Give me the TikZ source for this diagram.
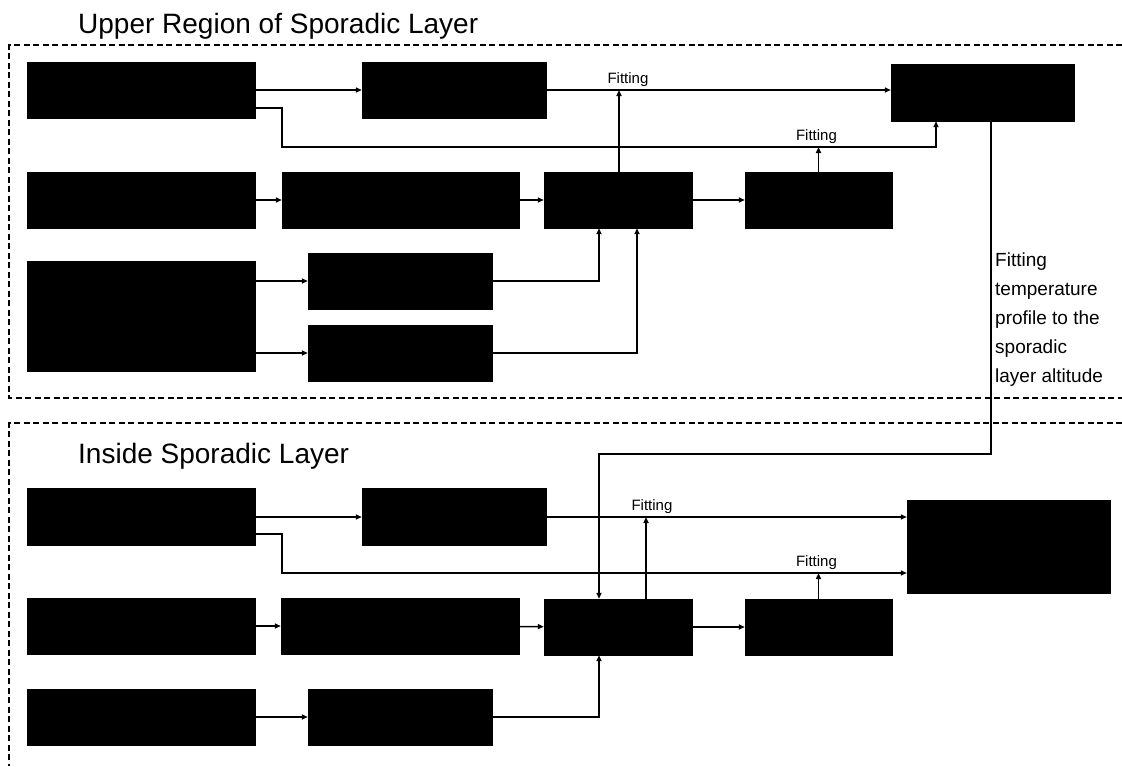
\documentclass[tikz,border=0pt]{standalone}
\usepackage{fontspec}
\setmainfont{Liberation Sans}
\usetikzlibrary{arrows.meta}
\begin{document}
\begin{tikzpicture}[x=1pt,y=-1pt,
  blk/.style={draw=black,fill=black,inner sep=0pt,minimum height=56pt},
  conn/.style={line width=1.6pt,-{Triangle[length=6pt,width=5pt]}},
  zone/.style={line width=1.3pt,dash pattern=on 6pt off 3.5pt},
  fitlbl/.style={font=\fontsize{15}{18}\selectfont,inner sep=0pt,anchor=south},
  ttl/.style={font=\fontsize{28}{34}\selectfont,inner sep=0pt,anchor=base west}]
\useasboundingbox (0,0) rectangle (1122,766);

% region frames (open to the right / bottom)
\draw[zone] (1122,45) -- (9,45) -- (9,398) -- (1122,398);
\draw[zone] (1122,423) -- (9,423) -- (9,766);

\node[ttl] (t1) at (78,33) {Upper Region of Sporadic Layer};
\node[ttl] (t2) at (78,463) {Inside Sporadic Layer};

% ---------- upper region ----------
\node[blk,minimum width=228pt] (u1) at (141,90) {};
\node[blk,minimum width=184pt] (u2) at (454,90) {};
\node[blk,minimum width=183pt,minimum height=57pt] (uF) at (982.5,92.5) {};
\node[blk,minimum width=228pt] (ua) at (141,200) {};
\node[blk,minimum width=237pt] (ub) at (400.5,200) {};
\node[blk,minimum width=148pt] (uc) at (618,200) {};
\node[blk,minimum width=147pt] (ud) at (818.5,200) {};
\node[blk,minimum width=228pt,minimum height=110pt] (ubig) at (141,316) {};
\node[blk,minimum width=184pt] (ue) at (400,281) {};
\node[blk,minimum width=184pt] (uf) at (400,353) {};
\coordinate (ulow) at (0,147);

\draw[conn] (u1.east) -- (u2.west);
\draw[conn] ([yshift=-18pt]u1.east) -- ++(27,0) |- ([xshift=-46.5pt]uF.south |- ulow) -- ([xshift=-46.5pt]uF.south);
\draw[conn] (u2.east) -- (u2.east -| uF.west);
\draw[conn] (ua) -- (ub);
\draw[conn] (ub) -- (uc);
\draw[conn] (uc) -- (ud);
\draw[conn] ([xshift=1pt]uc.north) -- ([xshift=1pt]uc.north |- u2.east);
\node[fitlbl] (f1) at ([xshift=10pt,yshift=3pt]uc.north |- u2.east) {Fitting};
\draw[conn] (ud.north) -- (ud.north |- ulow);
\node[fitlbl] (f2) at ([xshift=-2pt,yshift=3pt]ud.north |- ulow) {Fitting};
\draw[conn] (ubig.east |- ue) -- (ue.west);
\draw[conn] (ubig.east |- uf) -- (uf.west);
\draw[conn] (ue.east) -| ([xshift=-19pt]uc.south);
\draw[conn] (uf.east) -| ([xshift=19pt]uc.south);

% ---------- lower region ----------
\node[blk,minimum width=228pt,minimum height=57pt] (l1) at (141,517) {};
\node[blk,minimum width=184pt,minimum height=57pt] (l2) at (454,517) {};
\node[blk,minimum width=203pt,minimum height=93pt] (lF) at (1008.5,546.5) {};
\node[blk,minimum width=228pt] (la) at (141,626) {};
\node[blk,minimum width=238pt] (lb) at (400,626) {};
\node[blk,minimum width=148pt] (lc) at (618,627) {};
\node[blk,minimum width=147pt] (ld) at (818.5,627) {};
\node[blk,minimum width=228pt] (l3a) at (141,717) {};
\node[blk,minimum width=184pt] (l3b) at (400,717) {};
\coordinate (llow) at (0,573);

\draw[conn] (l1) -- (l2);
\draw[conn] (l2.east) -- (l2.east -| lF.west);
\draw[conn] ([yshift=-17pt]l1.east) -- ++(27,0) |- (lF.west |- llow);
\draw[conn] (la) -- (lb);
\draw[conn] (lb) -- (lc);
\draw[conn] (lc) -- (ld);
\draw[conn] ([xshift=28pt]lc.north) -- ([xshift=28pt]lc.north |- l2.east);
\node[fitlbl] (f3) at ([xshift=34pt,yshift=3pt]lc.north |- l2.east) {Fitting};
\draw[conn] (ld.north) -- (ld.north |- llow);
\node[fitlbl] (f4) at ([xshift=-2pt,yshift=3pt]ld.north |- llow) {Fitting};
\draw[conn] (l3a) -- (l3b);
\draw[conn] (l3b.east) -| ([xshift=-19pt]lc.south);

% temperature profile hand-over between the regions
\draw[conn] ([xshift=8.5pt]uF.south) -- ++(0,333) -| ([xshift=-19pt]lc.north);
\node[anchor=north west,align=left,inner sep=0pt,font=\fontsize{19}{29}\selectfont] (note) at (995,253)
  {Fitting\\temperature\\profile to the\\sporadic\\layer altitude};
\end{tikzpicture}
\end{document}
